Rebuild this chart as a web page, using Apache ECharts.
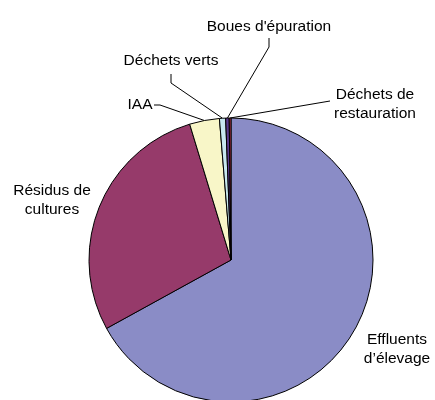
<!DOCTYPE html>
<html>
<head>
<meta charset="utf-8">
<script src="https://cdn.jsdelivr.net/npm/echarts@6/dist/echarts.min.js"></script>
<style>
  html, body { margin: 0; padding: 0; background: #fff; }
  #chart { width: 435px; height: 400px; }
</style>
</head>
<body>
<div id="chart"></div>
<script>
    const categories = [
        'Effluents\nd\u2019élevage',
        'Résidus de\ncultures',
        'IAA',
        'Déchets verts',
        "Boues d'épuration",
        'Déchets de\nrestauration'
    ];
    // shares in %
    const values = [67.0, 28.3, 3.4, 0.7, 0.4, 0.2];
    const colors = ['#8A8CC6', '#963A6A', '#F8F6C8', '#C8E8F0', '#5A3A8C', '#C83C50'];

    // label anchor (centre) and leader bend/end points, per slice
    const labelPos = [[397, 349], [52, 200], [140, 105], [171, 61], [269, 27], [375, 104]];
    const leaderPts = [null, null, [[160, 105], [154, 105]], [[171, 83], [171, 74]], [[269, 47], [269, 38]], [[330, 101]]];

    const chart = echarts.init(document.getElementById('chart'));

    const data = categories.map(function (name, i) {
        return {
            name: name,
            value: values[i],
            itemStyle: { color: colors[i] },
            labelLine: { show: leaderPts[i] !== null }
        };
    });

    chart.setOption({
        animation: false,
        series: [{
            type: 'pie',
            center: [231, 260],
            radius: 142,
            startAngle: 90,
            clockwise: true,
            avoidLabelOverlap: false,
            data: data,
            itemStyle: { borderColor: '#000', borderWidth: 1 },
            label: {
                show: true,
                formatter: '{b}',
                color: '#000',
                fontFamily: '"Liberation Sans", Arial, sans-serif',
                fontSize: 15.5,
                lineHeight: 19
            },
            labelLine: {
                show: true,
                lineStyle: { color: '#000', width: 1 }
            },
            labelLayout: function (params) {
                const i = params.dataIndex;
                const out = {
                    x: labelPos[i][0],
                    y: labelPos[i][1],
                    align: 'center',
                    verticalAlign: 'middle',
                    hideOverlap: false
                };
                if (leaderPts[i] && params.labelLinePoints) {
                    out.labelLinePoints = [params.labelLinePoints[0]].concat(leaderPts[i]);
                }
                return out;
            }
        }]
    });
</script>
</body>
</html>
